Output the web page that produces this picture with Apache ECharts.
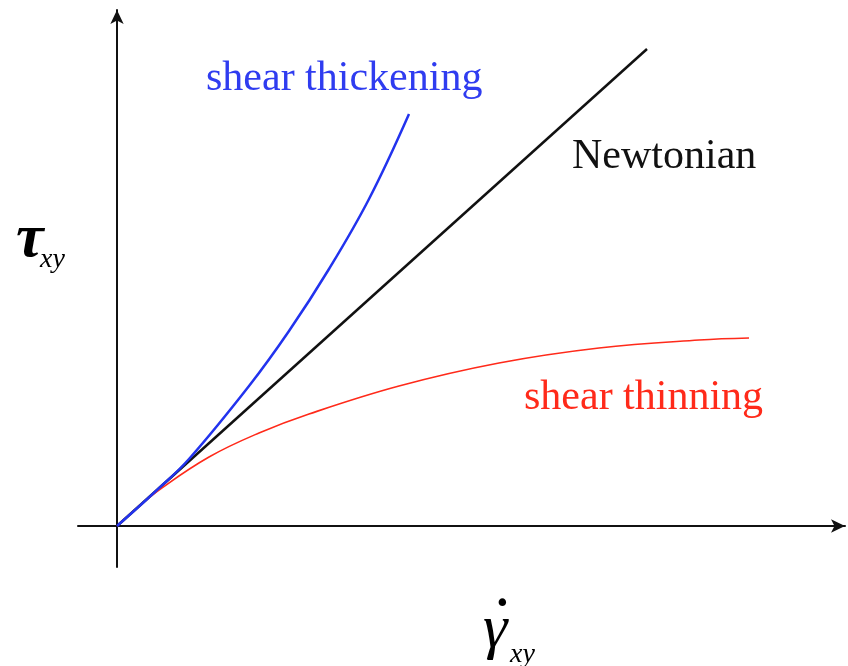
<!DOCTYPE html>
<html>
<head>
<meta charset="utf-8">
<script src="https://cdn.jsdelivr.net/npm/echarts@6/dist/echarts.min.js"></script>
<style>
  html, body { margin: 0; padding: 0; background: #fff; }
  #chart { width: 848px; height: 666px; }
</style>
</head>
<body>
<div id="chart"></div>
<script>
// shear rate vs shear stress, arbitrary units
var newtonian = [[0, 0], [530, 477]];
var thickening = [[0, 0], [40, 36], [72, 67], [132, 140], [172, 195], [212, 257], [252, 327], [292, 412]];
var thinning = [[0, 0], [20, 18], [42, 36], [92, 69], [142, 93], [192, 112], [282, 140], [382, 163], [482, 178], [582, 186], [632, 188]];

var xRange = [-39, 728];
var yRange = [-41, 516];

var myChart = echarts.init(document.getElementById('chart'));

var axisStyle = {
    show: true,
    onZero: true,
    symbol: ['none', 'arrow'],
    symbolSize: [10, 14],
    lineStyle: { color: '#111', width: 2 }
};

myChart.setOption({
    backgroundColor: '#fff',
    animation: false,
    grid: { left: 78, right: 3, top: 10, bottom: 99 },
    xAxis: {
        type: 'value',
        min: xRange[0],
        max: xRange[1],
        axisLine: axisStyle,
        axisTick: { show: false },
        axisLabel: { show: false },
        splitLine: { show: false }
    },
    yAxis: {
        type: 'value',
        min: yRange[0],
        max: yRange[1],
        axisLine: axisStyle,
        axisTick: { show: false },
        axisLabel: { show: false },
        splitLine: { show: false }
    },
    series: [
        {
            name: 'Newtonian',
            type: 'line',
            data: newtonian,
            showSymbol: false,
            lineStyle: { color: '#111', width: 2.5 }
        },
        {
            name: 'shear thinning',
            type: 'line',
            data: thinning,
            smooth: 0.4,
            showSymbol: false,
            lineStyle: { color: '#ff2a1a', width: 1.6 }
        },
        {
            name: 'shear thickening',
            type: 'line',
            data: thickening,
            smooth: 0.4,
            showSymbol: false,
            lineStyle: { color: '#2233ee', width: 2.5 }
        }
    ],
    graphic: [
        {
            type: 'text', left: 206, top: 58,
            style: { text: 'shear thickening', fill: '#2f3cf0', font: '42px "Liberation Serif"' }
        },
        {
            type: 'text', left: 572, top: 136,
            style: { text: 'Newtonian', fill: '#111', font: '42px "Liberation Serif"' }
        },
        {
            type: 'text', left: 524, top: 377,
            style: { text: 'shear thinning', fill: '#ff2a1a', font: '42px "Liberation Serif"' }
        },
        {
            type: 'text', left: 16, top: 209,
            style: { text: 'τ', fill: '#000', font: 'italic bold 62px "Liberation Serif"' }
        },
        {
            type: 'text', left: 40, top: 246,
            style: { text: 'xy', fill: '#000', font: 'italic 28px "Liberation Serif"' }
        },
        {
            type: 'text', left: 483, top: 600,
            style: { text: 'γ', fill: '#000', font: 'italic 62px "Liberation Serif"' }
        },
        {
            type: 'text', left: 494, top: 596,
            style: { text: '˙', fill: '#000', font: 'bold 50px "Liberation Serif"' }
        },
        {
            type: 'text', left: 510, top: 641,
            style: { text: 'xy', fill: '#000', font: 'italic 28px "Liberation Serif"' }
        }
    ]
});

window.onresize = function () {
    myChart.resize();
};
</script>
</body>
</html>
